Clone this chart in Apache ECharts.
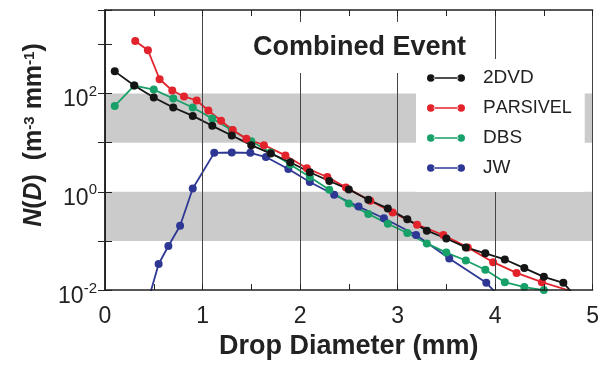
<!DOCTYPE html>
<html><head><meta charset="utf-8">
<script src="https://cdn.jsdelivr.net/npm/echarts@6/dist/echarts.min.js"></script>
<style>html,body{margin:0;padding:0;background:#fff}#c{width:602px;height:365px}</style>
</head><body><div id="c"></div>
<script>
const FONT = '"Liberation Sans", Arial, Helvetica, sans-serif';

// Drop diameter (mm) and N(D) (m^-3 mm^-1)
const dvdD = [0.1,0.3,0.5,0.7,0.9,1.1,1.3,1.5,1.7,1.9,2.1,2.3,2.5,2.7,2.9,3.1,3.3,3.5,3.7,3.9,4.1,4.3,4.5,4.7,4.9];
const dvdN = [282,145,83,52,35,22,14,8.9,6.0,4.0,2.5,1.66,1.12,0.69,0.46,0.275,0.162,0.112,0.074,0.056,0.042,0.028,0.0186,0.0141,0.005];

const parD = [0.31,0.44,0.56,0.69,0.81,0.94,1.06,1.19,1.31,1.45,1.63,1.85,2.07,2.28,2.47,2.72,2.95,3.2,3.47,3.72,3.98,4.22,4.48,4.76];
const parN = [1175,760,195,115,87,72,45,28,18,12,8.9,5.5,3.0,2.0,1.23,0.66,0.38,0.214,0.132,0.074,0.037,0.0224,0.0145,0.0098];

const dbsD = [0.1,0.3,0.5,0.7,0.9,1.1,1.3,1.5,1.7,1.9,2.1,2.3,2.5,2.7,2.9,3.1,3.3,3.5,3.7,3.9,4.1,4.3,4.5];
const dbsN = [56,145,120,79,52,31,18,10.7,6.3,3.6,2.0,1.1,0.575,0.355,0.224,0.145,0.089,0.058,0.040,0.026,0.0145,0.0115,0.0100];

const jwD = [0.43,0.55,0.65,0.77,0.90,1.12,1.30,1.49,1.65,1.88,2.10,2.35,2.60,2.86,3.19,3.53,3.91,4.10];
const jwN = [0.005,0.034,0.079,0.204,1.17,6.2,6.3,6.2,5.1,2.9,1.58,0.87,0.50,0.29,0.132,0.044,0.0141,0.0056];

const xTicks = [0,1,2,3,4,5];
const bands = [[10,100],[0.1,1]];

const names = ['2DVD','PARSIVEL','DBS','JW'];
const colors = {'2DVD':'#151515','PARSIVEL':'#e3232b','DBS':'#17a067','JW':'#2e3894'};

function zip(a,b){ return a.map((v,i)=>[v,b[i]]); }

const legendIcon = 'path://M0,4A4,4 0 1,0 8,4A4,4 0 1,0 0,4Z M32,4A4,4 0 1,0 40,4A4,4 0 1,0 32,4Z M7,3.2L33,3.2L33,4.8L7,4.8Z';

function mkSeries(name, D, N, extra){
  return Object.assign({
    name, type:'line', data: zip(D,N),
    symbol:'circle', symbolSize:8, showSymbol:true,
    itemStyle:{color:colors[name], borderWidth:0},
    lineStyle:{color:colors[name], width:1.8},
    clip:true, z:2
  }, extra||{});
}

const axisCommonX = {
  type:'value', min:0, max:5, interval:1, z:3,
  axisLine:{show:true, lineStyle:{color:'#222', width:1.5}},
  axisTick:{show:true, inside:true, length:6, lineStyle:{color:'#222', width:1}},
  minorTick:{show:true, splitNumber:2, length:6, lineStyle:{color:'#222', width:1}}
};
const axisCommonY = {
  type:'log', logBase:10, min:0.01, max:5000, z:3,
  axisLine:{show:true, lineStyle:{color:'#222', width:1.5}},
  axisTick:{show:true, inside:true, length:7, lineStyle:{color:'#222', width:1}},
  minorTick:{show:false}, splitLine:{show:false}
};

const chart = echarts.init(document.getElementById('c'), null, {renderer:'canvas'});
chart.setOption({
  animation:false,
  backgroundColor:'#fff',
  textStyle:{fontFamily:FONT},
  title:{
    text:'Combined Event', left:247, top:22, padding:[12,6,12,6],
    backgroundColor:'#fff', z:10,
    textStyle:{fontSize:27, fontWeight:'bold', fontFamily:FONT, color:'#222'}
  },
  legend:{
    orient:'vertical', left:416, top:59, z:10,
    backgroundColor:'#fff', padding:[9,13,14,11],
    itemWidth:38, itemHeight:8, itemGap:10,
    icon: legendIcon,
    itemStyle:{borderWidth:0},
    data: names,
    formatter: n => n === 'PARSIVEL' ? 'P{sc|ARSIVEL}' : n,
    textStyle:{fontSize:19, fontFamily:FONT, color:'#222', padding:[0,0,0,13], lineHeight:20,
      rich:{sc:{fontSize:18, fontFamily:FONT, color:'#222', lineHeight:20}}}
  },
  grid:{left:105, top:10, width:491, height:281, show:false},
  xAxis:[
    Object.assign({}, axisCommonX, {
      position:'bottom',
      name:'Drop Diameter (mm)', nameLocation:'middle', nameGap:40,
      nameTextStyle:{fontSize:27, fontWeight:'bold', fontFamily:FONT, color:'#222'},
      axisLabel:{show:true, margin:15, fontSize:23, fontFamily:FONT, color:'#222',
        formatter: v => xTicks.indexOf(v) >= 0 ? String(v) : ''},
      splitLine:{show:true, lineStyle:{color:'#444', width:1}}
    }),
    Object.assign({}, axisCommonX, {
      position:'top', axisLabel:{show:false}, splitLine:{show:false}
    })
  ],
  yAxis:[
    Object.assign({}, axisCommonY, {
      position:'left',
      name:'{i|N}({i|D})  (m{s|-3} mm{s|-1})', nameLocation:'middle', nameGap:58,
      nameTextStyle:{fontSize:25, fontWeight:'bold', fontFamily:FONT, color:'#222', padding:[0,0,0,30],
        rich:{
          i:{fontStyle:'italic', fontWeight:'bold', fontSize:25, fontFamily:FONT, color:'#222'},
          s:{fontWeight:'bold', fontSize:15, fontFamily:FONT, color:'#222', verticalAlign:'bottom', padding:[0,0,10,0]}
        }},
      axisLabel:{show:true, margin:8, color:'#222', padding:[7,0,0,0],
        formatter: v => {
          const e = Math.log10(v), r = Math.round(e);
          if (Math.abs(e-r) > 1e-6 || r % 2 !== 0) return '';
          return '{b|10}{s|' + r + '}';
        },
        rich:{
          b:{fontSize:23, fontFamily:FONT, color:'#222', padding:[6,0,0,0]},
          s:{fontSize:15, fontFamily:FONT, color:'#222', verticalAlign:'bottom', padding:[0,0,12,0]}
        }}
    }),
    Object.assign({}, axisCommonY, {position:'right', axisLabel:{show:false}})
  ],
  series:[
    mkSeries('JW', jwD, jwN, {
      markArea:{silent:true, itemStyle:{color:'#cbcbcb'},
        data: bands.map(b => [{xAxis:0, yAxis:b[0]},{xAxis:5, yAxis:b[1]}])}
    }),
    mkSeries('DBS', dbsD, dbsN),
    mkSeries('PARSIVEL', parD, parN),
    mkSeries('2DVD', dvdD, dvdN)
  ]
});
</script></body></html>
